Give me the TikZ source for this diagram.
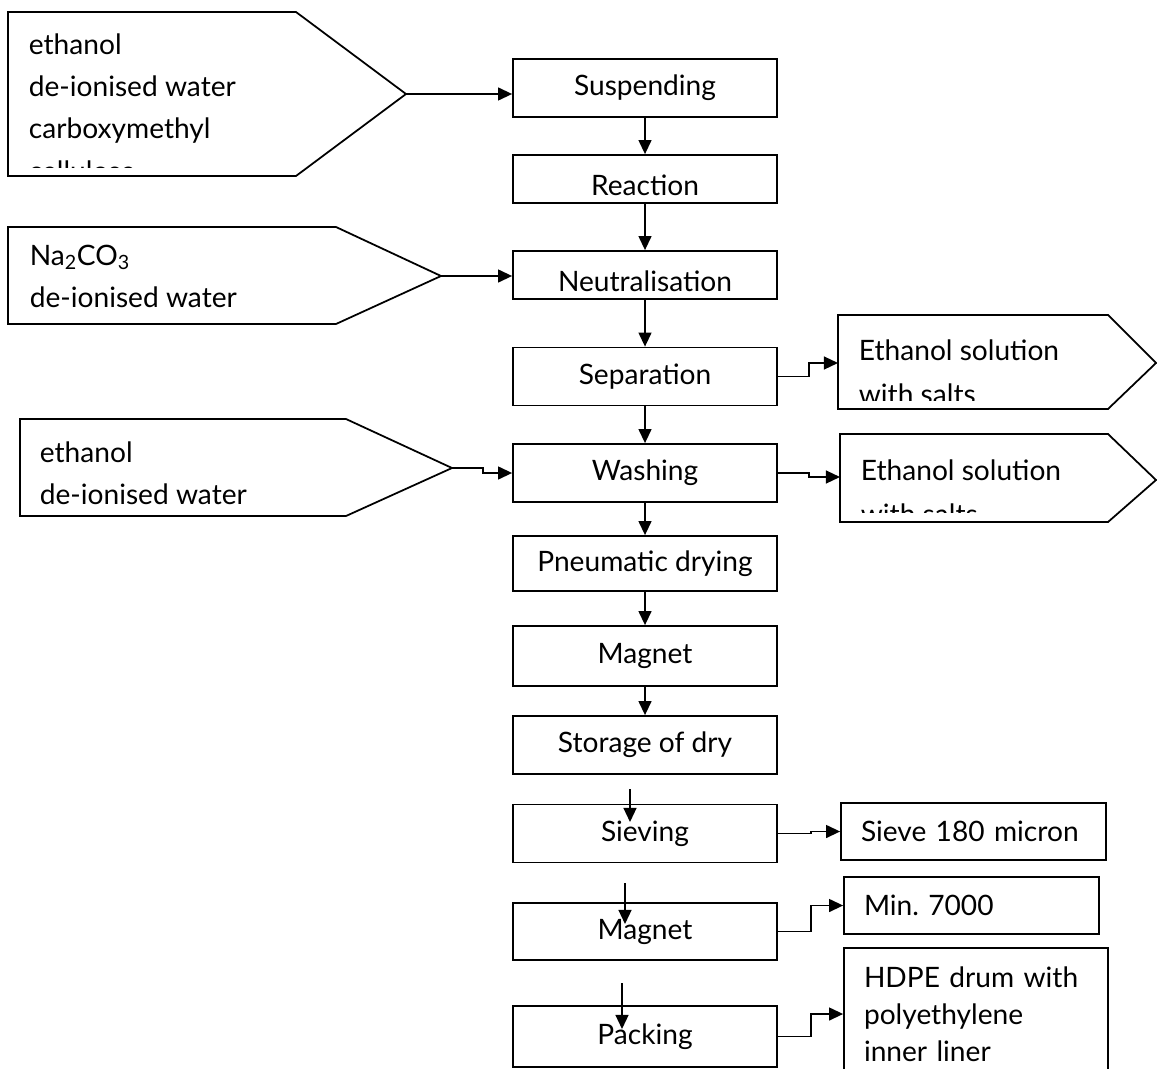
\documentclass[tikz,border=0pt]{standalone}
\usepackage{fontspec}
\setmainfont{Lato}
\usetikzlibrary{arrows.meta,positioning}

\begin{document}
\frenchspacing
\begin{tikzpicture}[x=0.03cm,y=-0.03cm,line width=1.5pt,font=\fontsize{24}{36}\selectfont,>={Triangle[length=12pt,width=11pt]},
stepbox/.style={draw, minimum width=7.92cm, minimum height=1.74cm, inner sep=0pt},
outbox/.style={draw, inner xsep=0.6cm, align=left},
feedtext/.style={anchor=north west, inner sep=0pt, align=left}]
\useasboundingbox (0,0) rectangle (1157,1068);
% main process column
\node[stepbox] (suspend) at (645,88) {Suspending};
\node[stepbox, minimum height=1.44cm] (react) at (645,179) {};
\node[stepbox, minimum height=1.44cm] (neutral) at (645,275) {};
\node[stepbox] (separ) at (645,376.5) {Separation};
\node[stepbox] (wash) at (645,473) {Washing};
\node[stepbox, minimum height=1.65cm] (dry) at (645,563.5) {Pneumatic drying};
\node[stepbox, minimum height=1.8cm] (magnet) at (645,656) {Magnet};
\node[stepbox] (store) at (645,745) {Storage of dry};
\node[stepbox] (sieving) at (645,833.5) {Sieving};
\node[stepbox, minimum height=1.71cm] (magnetb) at (645,931.5) {Magnet};
\node[stepbox, minimum height=1.83cm] (pack) at (645,1036.5) {Packing};
\begin{scope}\clip (react.north west) rectangle ([yshift=0.2cm]react.south east);
\node (reacttxt) at (645,185) {Reaction};
\end{scope}
\begin{scope}\clip (neutral.north west) rectangle ([yshift=0.21cm]neutral.south east);
\node (neutraltxt) at (645,281) {Neutralisation};
\end{scope}
\foreach \a/\b in {suspend/react,react/neutral,neutral/separ,separ/wash,wash/dry,dry/magnet,magnet/store}
  \draw[->] (\a) -- (\b);
% loose arrows above the last three steps
\coordinate (drop1) at (630,789); \coordinate (land1) at (630,822);
\coordinate (drop2) at (625,883); \coordinate (land2) at (625,924);
\coordinate (drop3) at (622,983); \coordinate (land3) at (622,1029);
\foreach \i in {1,2,3} \draw[->] (drop\i) -- (land\i);

% feeds on the left
\coordinate (feedatip) at (406,94);
\draw (8,12) -- (296,12) -- (feedatip) -- (296,176) -- (8,176) -- cycle;
\begin{scope}\clip (8,12) rectangle (296,167);
\node[feedtext] (feeda) at (28,33) {ethanol\\de-ionised water\\carboxymethyl\\cellulose};
\end{scope}
\coordinate (feedbtip) at (441,276);
\draw (8,227) -- (336,227) -- (feedbtip) -- (336,324) -- (8,324) -- cycle;
\node[feedtext] (feedb) at (29,244) {Na\textsubscript{2}CO\textsubscript{3}\\de-ionised water};
\coordinate (feedctip) at (452,468);
\draw (20,419) -- (346,419) -- (feedctip) -- (346,516) -- (20,516) -- cycle;
\node[feedtext] (feedc) at (39,441) {ethanol\\de-ionised water};
\draw[->] (feedatip) -- (feedatip -| suspend.west);
\draw[->] (feedbtip) -- (feedbtip -| neutral.west);
\draw[->] (feedctip) -- ++(31,0) |- (wash.west);

% outputs on the right
\coordinate (wastea) at (838,363);
\draw (838,315) -- (1108,315) -- (1156,363) -- (1108,409) -- (838,409) -- cycle;
\begin{scope}\clip (838,315) rectangle (1108,400);
\node[feedtext, font=\fontsize{24}{37.4}\selectfont] (wasteatxt) at (858,339) {Ethanol solution\\with salts};
\end{scope}
\coordinate (wasteb) at (840,477);
\draw (840,434) -- (1108,434) -- (1156,480) -- (1108,522) -- (840,522) -- cycle;
\begin{scope}\clip (840,434) rectangle (1108,512);
\node[feedtext, font=\fontsize{24}{37.4}\selectfont] (wastebtxt) at (860,459) {Ethanol solution\\with salts};
\end{scope}
\draw[->] (separ.east) -- ++(31,0) |- (wastea);
\draw[->] (wash.east) -- ++(31,0) |- (wasteb);

\node[outbox, text width=6.75cm, minimum height=1.71cm] (sieveout) at (973.5,831.5) {Sieve 180 micron};
\node[outbox, text width=6.45cm, minimum height=1.71cm] (minval) at (971.5,905.5) {Min. 7000};
\node[outbox, text width=6.72cm, minimum height=3.96cm, font=\fontsize{24}{31.5}\selectfont] (drum) at (976,1014) {HDPE drum with\\polyethylene\\inner liner};
\draw[->] (sieving.east) -- ++(33,0) |- (sieveout.west);
\draw[->] (magnetb.east) -- ++(33,0) |- (minval.west);
\draw[->] (pack.east) -- ++(33,0) |- (drum.west);
\end{tikzpicture}
\end{document}
